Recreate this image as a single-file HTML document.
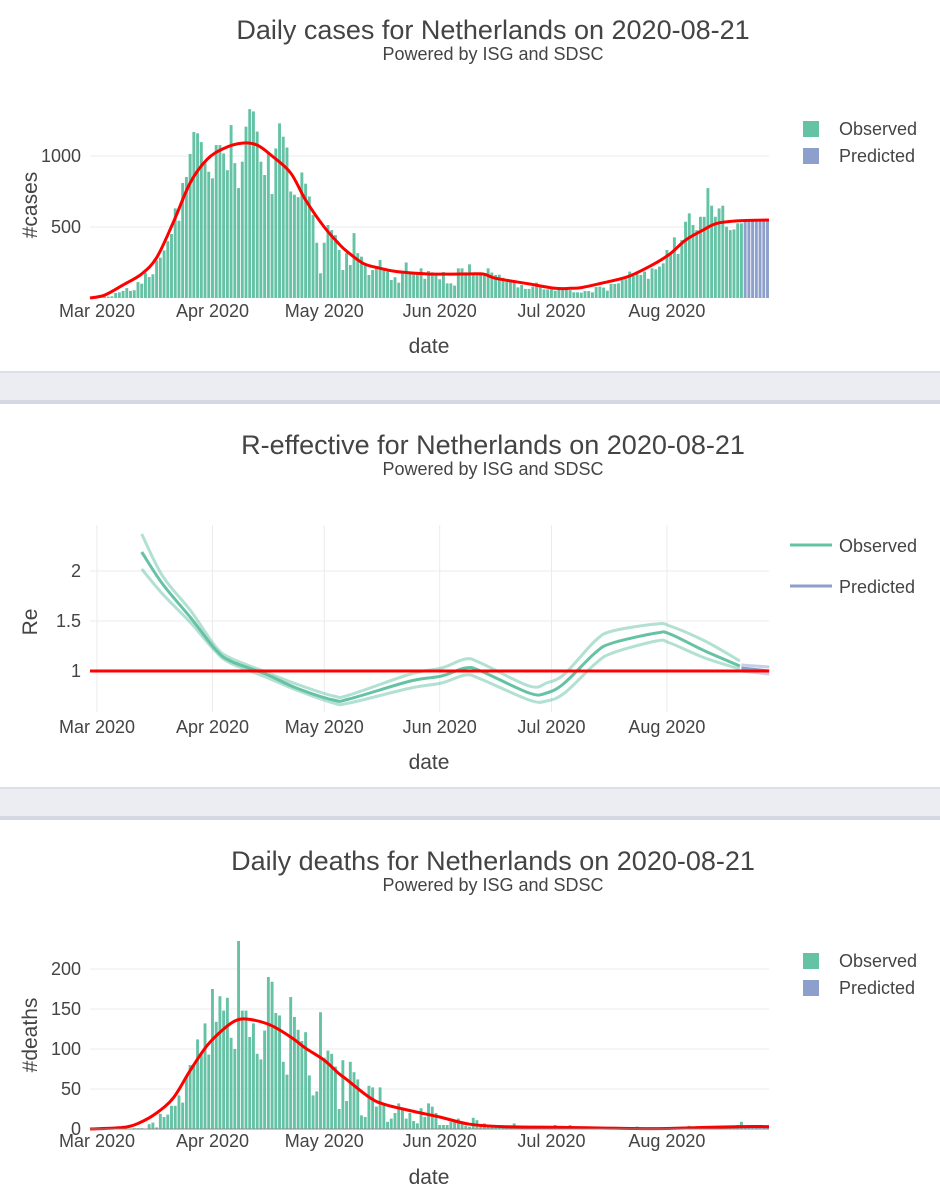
<!DOCTYPE html>
<html><head><meta charset="utf-8"><style>
body{margin:0;background:#fff;}
svg{display:block;font-family:"Liberation Sans",sans-serif;}
</style></head><body>
<svg id="chart" width="940" height="1200" viewBox="0 0 940 1200" xmlns="http://www.w3.org/2000/svg">
  <g>
    <rect x="0" y="371" width="940" height="2" fill="#dcdfe6"/>
    <rect x="0" y="373" width="940" height="27" fill="#ebedf2"/>
    <rect x="0" y="400" width="940" height="4" fill="#d5d8e2"/>
  </g>
  <g>
    <rect x="0" y="787" width="940" height="2" fill="#dcdfe6"/>
    <rect x="0" y="789" width="940" height="27" fill="#ebedf2"/>
    <rect x="0" y="816" width="940" height="4" fill="#d5d8e2"/>
  </g>
  <g id="cases"></g>
  <g id="re"></g>
  <g id="deaths"></g>
</svg>
<script>
// ---- data ----
const monthLabels = ["Mar 2020","Apr 2020","May 2020","Jun 2020","Jul 2020","Aug 2020"];
const monthDays = [0,31,61,92,122,153];
const firstBarDay = -1;
const casesObserved = [5,5,5,10,10,12,35,40,50,70,50,55,112,101,178,148,167,265,284,335,400,451,
631,544,810,852,1014,1169,1160,1098,950,889,843,1077,1077,1018,900,1218,950,774,960,1207,1330,1314,1172,960,866,1018,732,1053,1230,1136,1060,750,727,710,884,805,715,584,389,174,389,514,478,443,338,197,
316,232,457,316,291,244,162,197,209,268,209,186,127,146,108,174,250,174,174,174,209,135,190,181,174,132,183,103,103,87,209,209,181,237,162,162,181,174,209,179,162,164,143,115,115,115,75,92,64,64,80,108,80,61,61,61,52,61,61,61,56,40,40,
38,49,49,40,77,80,73,52,99,99,103,127,132,186,155,169,162,186,135,209,202,221,244,338,314,427,310,408,537,596,514,478,572,572,774,650,572,631,650,502,478,483,526,526];
const casesPredicted = [545,545,545,545,545,545,545];
const casesTrendDays = [-2,2,7,12,16,20.4,25,29.5,34,39,43,47,52,56,61,65,67,71.5,76,80.5,89,98,103.6,107,116,123,127,130,136,142.5,149,154,158,162.7,166.5,173,180.5];
const casesTrendVals = [0,20,92,170,284,528,810,975,1053,1091,1077,1000,880,690,500,380,330,244,209,186,169,169,169,139,99,68,68,73,108,150,232,314,408,478,526,545,549];
const casesTicks = [500,1000];

const reDays = [12,17.6,25.2,31.7,35.8,45.3,53.5,63.5,67.7,84.2,92.5,98.9,103,116,120.7,125.5,133.7,138.4,150.2,153.8,163.2,172.6];
const reMid = [2.19,1.87,1.53,1.22,1.10,0.97,0.83,0.71,0.72,0.90,0.95,1.03,1.00,0.78,0.78,0.88,1.18,1.28,1.38,1.37,1.20,1.05];
const reUpper = [2.37,1.95,1.60,1.25,1.13,0.99,0.87,0.75,0.76,0.97,1.03,1.12,1.08,0.85,0.88,0.97,1.30,1.40,1.47,1.45,1.30,1.10];
const reLower = [2.02,1.77,1.48,1.20,1.08,0.94,0.81,0.68,0.68,0.83,0.88,0.96,0.92,0.71,0.70,0.78,1.07,1.18,1.30,1.28,1.13,1.02];
const rePredDays = [173,180.5];
const rePredMid = [1.03,1.00];
const rePredUpper = [1.06,1.04];
const rePredLower = [1.00,0.97];
const reTicks = [1,1.5,2];
const reTickLabels = ["1","1.5","2"];

const deathsObserved = [0,0,0,0,0,0,0,0,0,0,0,1,1,1,0,
6,8,2,19,15,18,29,29,42,33,65,80,80,112,93,132,93,175,134,166,148,164,114,100,235,148,148,115,132,94,87,123,190,184,145,142,84,68,165,140,124,110,121,67,42,47,146,89,98,94,78,25,
86,35,84,71,62,17,15,54,52,28,52,30,9,13,20,32,24,13,20,10,7,26,15,32,28,20,5,5,5,9,9,13,7,4,3,14,11,6,7,
5,4,3,3,3,2,3,7,3,2,3,2,2,2,1,2,2,2,5,2,1,2,5,2,1,3,1,1,2,1,1,1,1,0,1,1,1,0,1,1,3,1,0,1,1,0,1,1,1,1,1,1,1,1,4,1,2,1,1,2,2,2,3,2,2,3,3,5,9];
const deathsPredicted = [3,3,3,3,3,3,3];
const deathsTrendDays = [-2,7,11.5,16,20.5,25,29.5,34,37.5,41,46.5,52,56,61,65,67,73,77,85,92,100,109,125,148.5,161,173,180.5];
const deathsTrendVals = [0,2,8,20,39,73,104,125,136,137,130,115,101,86,69,62,40,31,22,15,6,3,2,0.5,1.7,3,3];
const deathsTicks = [0,50,100,150,200];

// ---- helpers ----
const NS = "http://www.w3.org/2000/svg";
const PL = 90, PR = 769;
function xS(d){ return 97 + 3.725*d; }
function mk(parent, tag, attrs, text){
  const e = document.createElementNS(NS, tag);
  for (const k in attrs) e.setAttribute(k, attrs[k]);
  if (text !== undefined) e.textContent = text;
  parent.appendChild(e);
  return e;
}
function smooth(pts){
  let d = "M" + pts[0][0].toFixed(1) + "," + pts[0][1].toFixed(1);
  for (let i=0;i<pts.length-1;i++){
    const p0 = pts[Math.max(0,i-1)], p1 = pts[i], p2 = pts[i+1], p3 = pts[Math.min(pts.length-1,i+2)];
    const c1x = p1[0]+(p2[0]-p0[0])/6, c1y = p1[1]+(p2[1]-p0[1])/6;
    const c2x = p2[0]-(p3[0]-p1[0])/6, c2y = p2[1]-(p3[1]-p1[1])/6;
    d += " C"+c1x.toFixed(1)+","+c1y.toFixed(1)+" "+c2x.toFixed(1)+","+c2y.toFixed(1)+" "+p2[0].toFixed(1)+","+p2[1].toFixed(1);
  }
  return d;
}
function titles(g, title, ty, ytitle, ycenter, tickY, dateY){
  let t = mk(g,"text",{x:493,y:ty,"text-anchor":"middle","font-size":27,fill:"#444"},title);
  
  
  t = mk(g,"text",{x:493,y:ty+21,"text-anchor":"middle","font-size":18,fill:"#444"},"Powered by ISG and SDSC");
  
  
  t = mk(g,"text",{x:0,y:0,"text-anchor":"middle","font-size":21,fill:"#444",transform:"translate(37,"+ycenter+") rotate(-90)"},ytitle);
  
  
  monthLabels.forEach((m,i)=>{
    const l = mk(g,"text",{x:xS(monthDays[i]),y:tickY,"text-anchor":"middle","font-size":18,fill:"#444"},m);
    
    
  });
  t = mk(g,"text",{x:429,y:dateY,"text-anchor":"middle","font-size":21,fill:"#444"},"date");
  
  
}
function barLegend(g, y){
  let r = mk(g,"rect",{x:803,y:y-8,width:16,height:16,fill:"#66c2a5"});
  
  
  let t = mk(g,"text",{x:839,y:y+6,"font-size":18,fill:"#444"},"Observed");
  
  
  r = mk(g,"rect",{x:803,y:y+19,width:16,height:16,fill:"#8da0cb"});
  
  
  t = mk(g,"text",{x:839,y:y+33,"font-size":18,fill:"#444"},"Predicted");
  
  
}
function barChart(g, obs, pred, yS, ticks, tickLabelsShown, trendDays, trendVals){
  ticks.forEach(v=>{
    const gl = mk(g,"line",{x1:PL,x2:PR,y1:yS(v),y2:yS(v),stroke:"#ebebeb","stroke-width":1});
    
    
    if (tickLabelsShown){
      const l = mk(g,"text",{x:81,y:yS(v)+6,"text-anchor":"end","font-size":18,fill:"#444"},String(v));
      
      
    }
  });
  const bw = 2.9;
  obs.forEach((v,i)=>{
    const d = firstBarDay + i;
    const b = mk(g,"rect",{x:xS(d)-bw/2,y:yS(v),width:bw,height:Math.max(0,yS(0)-yS(v)),fill:"#66c2a5"});
    
    
  });
  pred.forEach((v,i)=>{
    const d = firstBarDay + obs.length + i;
    const b = mk(g,"rect",{x:xS(d)-bw/2,y:yS(v),width:bw,height:Math.max(0,yS(0)-yS(v)),fill:"#8da0cb"});
    
    
  });
  const pts = trendDays.map((d,i)=>[Math.min(PR,Math.max(PL,xS(d))), yS(trendVals[i])]);
  const p = mk(g,"path",{d:smooth(pts),fill:"none",stroke:"#ff0000","stroke-width":3});
  
  
}

// ---- cases ----
const gC = document.getElementById("cases");
const yC = v => 298 - v*71/500;
titles(gC,"Daily cases for Netherlands on 2020-08-21",39,"#cases",205,317,353);
barChart(gC, casesObserved, casesPredicted, yC, casesTicks, true, casesTrendDays, casesTrendVals);
barLegend(gC,129);

// ---- Re ----
const gR = document.getElementById("re");
const yR = v => 671 - (v-1)*100;
titles(gR,"R-effective for Netherlands on 2020-08-21",454,"Re",622,733,769);
monthDays.forEach(d=>{
  const l = mk(gR,"line",{x1:xS(d),x2:xS(d),y1:525,y2:712,stroke:"#ebebeb","stroke-width":1});
  
  
});
reTicks.forEach((v,i)=>{
  const l = mk(gR,"line",{x1:PL,x2:PR,y1:yR(v),y2:yR(v),stroke:"#ebebeb","stroke-width":1});
  
  
  const t = mk(gR,"text",{x:81,y:yR(v)+6,"text-anchor":"end","font-size":18,fill:"#444"},reTickLabels[i]);
  
  
});
function reLine(days, vals, color, w, op, name){
  const pts = days.map((d,i)=>[xS(d), yR(vals[i])]);
  const p = mk(gR,"path",{d:smooth(pts),fill:"none",stroke:color,"stroke-width":w,"stroke-opacity":op});
  
  
}
reLine(reDays, reUpper, "#66c2a5", 3, 0.5, "re-upper-bound");
reLine(reDays, reLower, "#66c2a5", 3, 0.5, "re-lower-bound");
reLine(reDays, reMid, "#66c2a5", 3, 1, "re-observed-line");
reLine(rePredDays, rePredUpper, "#8da0cb", 3, 0.5, "re-predicted-upper");
reLine(rePredDays, rePredLower, "#8da0cb", 3, 0.5, "re-predicted-lower");
reLine(rePredDays, rePredMid, "#8da0cb", 3, 1, "re-predicted-line");
const one = mk(gR,"line",{x1:PL,x2:PR,y1:yR(1),y2:yR(1),stroke:"#ff0000","stroke-width":3});


let lg = mk(gR,"line",{x1:790,x2:832,y1:545,y2:545,stroke:"#66c2a5","stroke-width":3});


lg = mk(gR,"text",{x:839,y:552,"font-size":18,fill:"#444"},"Observed");


lg = mk(gR,"line",{x1:790,x2:832,y1:586,y2:586,stroke:"#8da0cb","stroke-width":3});


lg = mk(gR,"text",{x:839,y:593,"font-size":18,fill:"#444"},"Predicted");



// ---- deaths ----
const gD = document.getElementById("deaths");
const yD = v => 1129 - v*0.8;
titles(gD,"Daily deaths for Netherlands on 2020-08-21",870,"#deaths",1035,1147,1184);
barChart(gD, deathsObserved, deathsPredicted, yD, deathsTicks, true, deathsTrendDays, deathsTrendVals);
const zl = mk(gD,"line",{x1:PL,x2:PR,y1:yD(0),y2:yD(0),stroke:"#888","stroke-width":1});


barLegend(gD,961);
</script>
</body></html>
